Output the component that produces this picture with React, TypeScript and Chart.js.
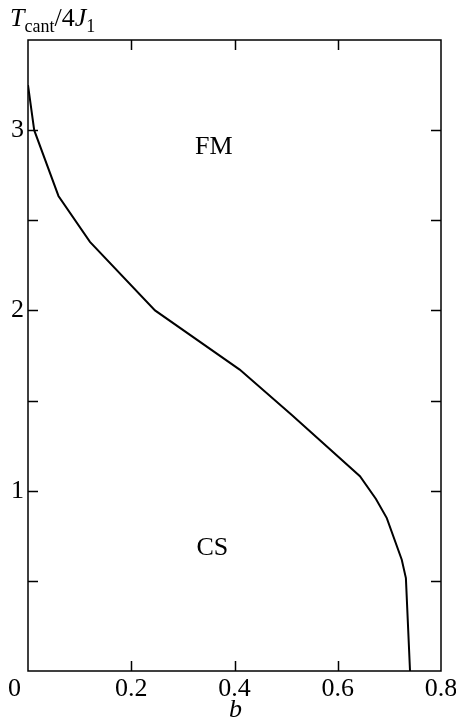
import React, { useEffect, useRef } from "react";
import { Chart, registerables } from "chart.js";

Chart.register(...registerables);

// Data: phase boundary T_cant/4J1 versus b
const B_VALUES = [0, 0.012, 0.059, 0.12, 0.246, 0.41, 0.511, 0.643, 0.674, 0.695, 0.724, 0.732, 0.74];
const T_VALUES = [3.25, 3.0, 2.635, 2.38, 2.0, 1.672, 1.42, 1.08, 0.954, 0.848, 0.617, 0.515, 0];

// Axis ticks
const X_TICKS = [0, 0.2, 0.4, 0.6, 0.8];
const X_TICK_LABELS = ["0", "0.2", "0.4", "0.6", "0.8"];
const Y_TICK_MARKS = [0.5, 1, 1.5, 2, 2.5, 3];
const Y_LABEL_TICKS = [1, 2, 3];
const Y_TICK_LABELS = ["1", "2", "3"];

// Region labels
const REGION_LABELS = ["FM", "CS"];
const REGION_X = [0.36, 0.357];
const REGION_Y = [2.867, 0.644];

const X_MIN = 0;
const X_MAX = 0.8;
const Y_MIN = 0;
const Y_MAX = 3.5;

const SERIF = '"Liberation Serif", "Times New Roman", serif';

const decorPlugin = {
  id: "decor",
  afterDraw(chart: any) {
    const ctx = chart.ctx as CanvasRenderingContext2D;
    const { left, right, top, bottom } = chart.chartArea;
    const xs = chart.scales.x;
    const ys = chart.scales.y;
    const tickLen = 10;
    ctx.save();
    ctx.strokeStyle = "#000";
    ctx.lineWidth = 1.5;
    // frame
    ctx.strokeRect(left, top, right - left, bottom - top);
    // x ticks (inner, bottom & top)
    ctx.beginPath();
    X_TICKS.forEach((v) => {
      if (v <= X_MIN || v >= X_MAX) return;
      const px = Math.round(xs.getPixelForValue(v)) + 0.5;
      ctx.moveTo(px, bottom);
      ctx.lineTo(px, bottom - tickLen);
      ctx.moveTo(px, top);
      ctx.lineTo(px, top + tickLen);
    });
    // y ticks (inner, left & right)
    Y_TICK_MARKS.forEach((v) => {
      const py = Math.round(ys.getPixelForValue(v)) + 0.5;
      ctx.moveTo(left, py);
      ctx.lineTo(left + tickLen, py);
      ctx.moveTo(right, py);
      ctx.lineTo(right - tickLen, py);
    });
    ctx.stroke();

    ctx.fillStyle = "#000";
    ctx.font = `26px ${SERIF}`;
    ctx.textBaseline = "alphabetic";
    // x tick labels
    X_TICKS.forEach((v, i) => {
      const px = xs.getPixelForValue(v);
      if (v === X_MIN) {
        ctx.textAlign = "right";
        ctx.fillText(X_TICK_LABELS[i], px - 7, bottom + 25);
      } else {
        ctx.textAlign = "center";
        ctx.fillText(X_TICK_LABELS[i], px, bottom + 25);
      }
    });
    // y tick labels
    ctx.textAlign = "right";
    Y_LABEL_TICKS.forEach((v, i) => {
      const py = ys.getPixelForValue(v);
      ctx.fillText(Y_TICK_LABELS[i], left - 4, py + 7);
    });
    // region labels
    ctx.textAlign = "center";
    REGION_LABELS.forEach((t, i) => {
      ctx.fillText(t, xs.getPixelForValue(REGION_X[i]), ys.getPixelForValue(REGION_Y[i]));
    });
    // x axis title: b (italic)
    ctx.font = `italic 26px ${SERIF}`;
    ctx.textAlign = "center";
    ctx.fillText("b", (left + right) / 2 + 1, bottom + 46);

    // y axis title: T_cant/4J_1
    ctx.textAlign = "left";
    let x = 10;
    const base = 26;
    const subBase = 32;
    const parts: [string, string, number][] = [
      ["T", `italic 26px ${SERIF}`, base],
      ["cant", `18px ${SERIF}`, subBase],
      ["/4", `26px ${SERIF}`, base],
      ["J", `italic 26px ${SERIF}`, base],
      ["1", `18px ${SERIF}`, subBase],
    ];
    parts.forEach(([t, f, y]) => {
      ctx.font = f;
      ctx.fillText(t, x, y);
      x += ctx.measureText(t).width;
    });
    ctx.restore();
  },
};

export default function App() {
  const canvasRef = useRef<HTMLCanvasElement | null>(null);

  useEffect(() => {
    const canvas = canvasRef.current;
    if (!canvas) return;
    const points = B_VALUES.map((b, i) => ({ x: b, y: T_VALUES[i] }));
    const chart = new Chart(canvas, {
      type: "scatter",
      data: {
        datasets: [
          {
            data: points,
            showLine: true,
            borderColor: "#000",
            borderWidth: 2,
            pointRadius: 0,
            tension: 0,
            fill: false,
          },
        ],
      },
      options: {
        responsive: false,
        animation: false,
        devicePixelRatio: 1,
        layout: { padding: { left: 28, top: 40, right: 15, bottom: 50 } },
        plugins: {
          legend: { display: false },
          tooltip: { enabled: false },
          title: { display: false },
        },
        scales: {
          x: { type: "linear", min: X_MIN, max: X_MAX, display: false },
          y: { type: "linear", min: Y_MIN, max: Y_MAX, display: false },
        },
      },
      plugins: [decorPlugin],
    });
    return () => chart.destroy();
  }, []);

  return (
    <div style={{ position: "fixed", left: 0, top: 0, width: 456, height: 721, background: "#fff" }}>
      <canvas ref={canvasRef} width={456} height={721} style={{ width: 456, height: 721, display: "block" }} />
    </div>
  );
}
